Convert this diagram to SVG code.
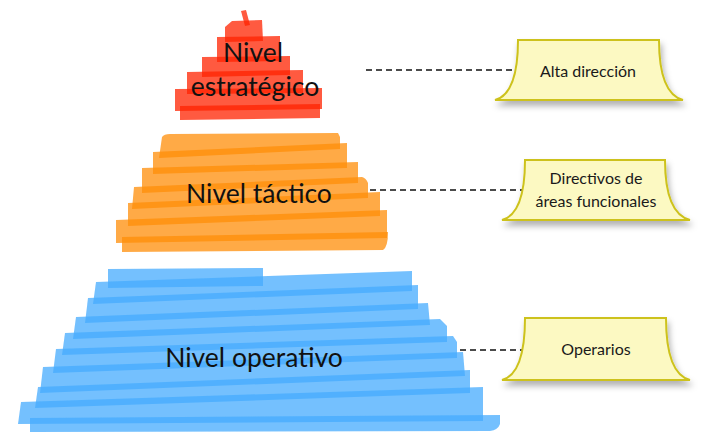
<svg xmlns="http://www.w3.org/2000/svg" width="713" height="434" viewBox="0 0 713 434">
<defs>
<style>
.red{fill:rgb(255,35,0);fill-opacity:0.75}
.org{fill:rgb(255,142,8);fill-opacity:0.75}
.blu{fill:rgb(70,171,254);fill-opacity:0.75}
.lvl{font-family:Lato,"Open Sans",sans-serif;font-size:26.5px;fill:#111;text-anchor:middle}
.note{fill:#fcf9c2;stroke:#cdc21c;stroke-width:2;filter:url(#sh)}
.nt{font-family:Lato,"Open Sans",sans-serif;font-size:16px;fill:#1a1a1a;text-anchor:middle}
.dash{stroke:#111;stroke-width:1.5;stroke-dasharray:6 4;fill:none}
</style>
<filter id="sh" x="-20%" y="-20%" width="140%" height="160%">
<feDropShadow dx="2" dy="5" stdDeviation="3" flood-color="#000" flood-opacity="0.3"/>
</filter>
</defs>
<g id="connectors">
<line class="dash" x1="366" y1="70" x2="518" y2="70"/>
<line class="dash" x1="370" y1="190" x2="525" y2="190"/>
<line class="dash" x1="460" y1="350" x2="525" y2="350"/>
</g>
<g id="nivel-operativo">
<polygon class="blu" points="108,269 263,268 263,286 108,288"/>
<polygon class="blu" points="96,282 412,271 412,291 93,304"/>
<polygon class="blu" points="88,298 418,285 418,309 85,323"/>
<polygon class="blu" points="76,317 428,303 430,325 73,339"/>
<polygon class="blu" points="65,333 440,319 447,326 447,342 62,355"/>
<polygon class="blu" points="56,349 453,336 457,342 457,358 53,373"/>
<polygon class="blu" points="43,367 463,352 465,376 40,393"/>
<polygon class="blu" points="38,387 470,370 470,393 35,408"/>
<polygon class="blu" points="21,402 483,387 483,421 18,424"/>
<path class="blu" d="M30,418 L500,415 L500,424 Q498,430 490,431 L30,432 Z"/>
<text class="lvl" x="254" y="367">Nivel operativo</text>
</g>
<g id="nivel-tactico">
<path class="org" d="M162,137 Q164,134 170,134 L338,133 L340,137 L340,149 L159,158 Z"/>
<polygon class="org" points="153,152 347,143 347,168 153,174"/>
<polygon class="org" points="142,168 358,162 358,183 142,193"/>
<path class="org" d="M134,187 L362,177 Q366,178 368,183 L368,198 L132,209 Z"/>
<polygon class="org" points="128,203 380,192 380,216 128,226"/>
<polygon class="org" points="116,220 387,210 387,238 116,243"/>
<path class="org" d="M122,237 L388,232 Q388,247 383,250 L122,252 Z"/>
<text class="lvl" x="259" y="203">Nivel táctico</text>
</g>
<g id="nivel-estrategico">
<polygon class="red" points="241,11 246,10 250,25 245,26"/>
<path class="red" d="M225,27 L232,21 L262,20 L263,41 L225,42 Z"/>
<polygon class="red" points="217,37 280,36 280,61 217,62"/>
<polygon class="red" points="202,57 290,56 290,75 202,77"/>
<polygon class="red" points="187,72 303,70 303,93 187,94"/>
<polygon class="red" points="175,89 322,88 322,109 175,111"/>
<polygon class="red" points="180,106 320,104 320,118 180,120"/>
<text class="lvl" x="253" y="62">Nivel</text>
<text class="lvl" x="255" y="96">estratégico</text>
</g>
<g id="alta-direccion">
<path class="note" d="M518,40 L659,40 C659,78 668,96 683,100 L495,100 C510,96 518,78 518,40 Z"/>
<text class="nt" x="588" y="77">Alta dirección</text>
</g>
<g id="directivos">
<path class="note" d="M525,160 L665,160 C665,198 675,216 690,220 L502,220 C517,216 525,198 525,160 Z"/>
<text class="nt" x="596" y="184">Directivos de</text>
<text class="nt" x="596" y="207">áreas funcionales</text>
</g>
<g id="operarios">
<path class="note" d="M525,318 L666,318 C666,356 675,376 690,380 L502,380 C517,376 525,356 525,318 Z"/>
<text class="nt" x="596" y="355">Operarios</text>
</g>
</svg>
